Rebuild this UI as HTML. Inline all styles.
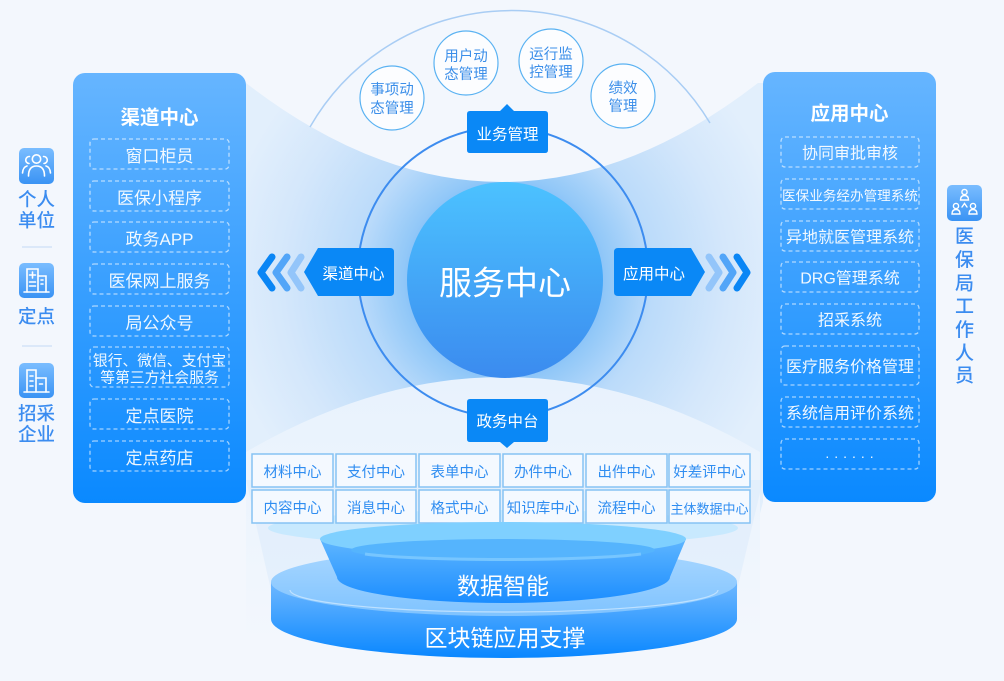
<!DOCTYPE html>
<html>
<head>
<meta charset="utf-8">
<style>
html,body{margin:0;padding:0;background:#f3f7fd;}
svg{display:block;}
.t{font-family:"Liberation Sans","Noto Sans CJK SC",sans-serif;}
</style>
</head>
<body>
<svg width="1004" height="681" viewBox="0 0 1004 681" xmlns="http://www.w3.org/2000/svg" class="t">
<defs>
  <linearGradient id="gp" x1="0" y1="0" x2="0" y2="1">
    <stop offset="0" stop-color="#66b5ff"/>
    <stop offset="1" stop-color="#0a89ff"/>
  </linearGradient>
  <linearGradient id="gc" x1="0" y1="0" x2="0" y2="1">
    <stop offset="0" stop-color="#4cc2ff"/>
    <stop offset="1" stop-color="#3b8bef"/>
  </linearGradient>
  <radialGradient id="gl" cx="505" cy="280" r="285" gradientUnits="userSpaceOnUse">
    <stop offset="0.3" stop-color="#7fbbf6"/>
    <stop offset="0.36" stop-color="#92c8f8"/>
    <stop offset="0.52" stop-color="#bbdbfa"/>
    <stop offset="0.78" stop-color="#d4e7fb"/>
    <stop offset="1" stop-color="#e2effc"/>
  </radialGradient>
  <linearGradient id="gi" x1="0" y1="0" x2="0" y2="1">
    <stop offset="0" stop-color="#7abdff"/>
    <stop offset="1" stop-color="#3a93f4"/>
  </linearGradient>
  <linearGradient id="gcone" x1="0" y1="0" x2="0" y2="1">
    <stop offset="0" stop-color="#5fb6ff"/>
    <stop offset="1" stop-color="#1b8dff"/>
  </linearGradient>
  <linearGradient id="gcyl" x1="0" y1="0" x2="0" y2="1">
    <stop offset="0" stop-color="#6fb8ff"/>
    <stop offset="1" stop-color="#0987ff"/>
  </linearGradient>
  <linearGradient id="gtop" x1="0" y1="0" x2="0" y2="1">
    <stop offset="0" stop-color="#a9d7ff"/>
    <stop offset="1" stop-color="#7fc3ff"/>
  </linearGradient>
  <linearGradient id="gbw" x1="0" y1="376" x2="0" y2="640" gradientUnits="userSpaceOnUse">
    <stop offset="0" stop-color="#e8f2fd"/>
    <stop offset="0.6" stop-color="#eef5fd"/>
    <stop offset="1" stop-color="#f3f7fd"/>
  </linearGradient>
</defs>

<!-- background -->
<rect x="0" y="0" width="1004" height="681" fill="#f3f7fd"/>

<!-- blue beam region -->
<path d="M246,75 L763,75 L763,502 L737,600 L271,600 L246,503 Z" fill="url(#gl)"/>

<!-- top white region -->
<path d="M230,0 L230,83 L246,83 Q502,281 758,83 L780,83 L780,0 Z" fill="#f3f7fd"/>

<!-- bottom white region -->
<path d="M246,452 Q503,302 760,452 L760,681 L246,681 Z" fill="url(#gbw)"/>
<!-- faint lower beam -->
<path d="M246,480 L271,590 L737,590 L763,480 Z" fill="#d6e9fb" opacity="0.45"/>

<!-- big top arc -->
<path d="M310,127 A232,232 0 0 1 710,123" fill="none" stroke="#a9cdf4" stroke-width="1.5"/>

<!-- ring -->
<circle cx="503" cy="272" r="145" fill="none" stroke="#3d8cef" stroke-width="2"/>

<!-- main circle -->
<circle cx="505" cy="280" r="98" fill="url(#gc)"/>
<text x="505" y="283" font-size="33" fill="#ffffff" text-anchor="middle" dominant-baseline="central">服务中心</text>

<!-- top bubbles -->
<g fill="rgba(255,255,255,0.75)" stroke="#5ab2f2" stroke-width="1.2">
  <circle cx="392" cy="98" r="32"/>
  <circle cx="466" cy="63" r="32"/>
  <circle cx="551" cy="61" r="32"/>
  <circle cx="623" cy="96" r="32"/>
</g>
<g font-size="14.5" fill="#3b8ee9" text-anchor="middle" dominant-baseline="central" transform="translate(0,2)">
  <text x="392" y="88.5">事项动</text><text x="392" y="107">态管理</text>
  <text x="466" y="55">用户动</text><text x="466" y="73">态管理</text>
  <text x="551" y="53">运行监</text><text x="551" y="71">控管理</text>
  <text x="623" y="87">绩效</text><text x="623" y="105">管理</text>
</g>

<!-- 业务管理 label -->
<path d="M470,111 L500,111 L507,104 L514,111 L545,111 Q548,111 548,114 L548,150 Q548,153 545,153 L470,153 Q467,153 467,150 L467,114 Q467,111 470,111 Z" fill="#0a88f6"/>
<text x="507.5" y="135" font-size="15.5" fill="#ffffff" text-anchor="middle" dominant-baseline="central">业务管理</text>

<!-- 政务中台 label -->
<path d="M470,399 L545,399 Q548,399 548,402 L548,439 Q548,442 545,442 L514,442 L507,448 L500,442 L470,442 Q467,442 467,439 L467,402 Q467,399 470,399 Z" fill="#0a88f6"/>
<text x="507.5" y="422" font-size="15.5" fill="#ffffff" text-anchor="middle" dominant-baseline="central">政务中台</text>

<!-- 渠道中心 label (left pointing) -->
<path d="M318,248 L390,248 Q394,248 394,252 L394,292 Q394,296 390,296 L318,296 L304,272 Z" fill="#0a88f6"/>
<text x="353.5" y="274.5" font-size="15.5" fill="#ffffff" text-anchor="middle" dominant-baseline="central">渠道中心</text>

<!-- 应用中心 label (right pointing) -->
<path d="M618,248 L691,248 L705,272 L691,296 L618,296 Q614,296 614,292 L614,252 Q614,248 618,248 Z" fill="#0a88f6"/>
<text x="654" y="274.5" font-size="15.5" fill="#ffffff" text-anchor="middle" dominant-baseline="central">应用中心</text>

<!-- chevrons -->
<g fill="none" stroke-width="7" stroke-linecap="round" stroke-linejoin="round">
  <polyline points="272,257 261,272.5 272,288" stroke="#0a86f5"/>
  <polyline points="287,257 276,272.5 287,288" stroke="#52a5f8"/>
  <polyline points="301,257 291,272.5 301,288" stroke="#93c5fa"/>
  <polyline points="709,257 719,272.5 709,288" stroke="#93c5fa"/>
  <polyline points="723,257 733,272.5 723,288" stroke="#52a5f8"/>
  <polyline points="737,257 747,272.5 737,288" stroke="#0a86f5"/>
</g>

<!-- grid glow -->
<ellipse cx="503" cy="528" rx="235" ry="18" fill="#bfe7ff" opacity="0.75"/>

<!-- grid cells -->
<g fill="#f4f9ff" stroke="#86c3f4" stroke-width="1.5">
  <rect x="252" y="454" width="81" height="33"/>
  <rect x="336" y="454" width="80" height="33"/>
  <rect x="419" y="454" width="81" height="33"/>
  <rect x="503" y="454" width="80" height="33"/>
  <rect x="586" y="454" width="81" height="33"/>
  <rect x="669" y="454" width="81" height="33"/>
  <rect x="252" y="490" width="81" height="33"/>
  <rect x="336" y="490" width="80" height="33"/>
  <rect x="419" y="490" width="81" height="33"/>
  <rect x="503" y="490" width="80" height="33"/>
  <rect x="586" y="490" width="81" height="33"/>
  <rect x="669" y="490" width="81" height="33"/>
</g>
<g font-size="14.5" fill="#2f8df1" text-anchor="middle" dominant-baseline="central" transform="translate(0,2)">
  <text x="292.5" y="471">材料中心</text>
  <text x="376" y="471">支付中心</text>
  <text x="459.5" y="471">表单中心</text>
  <text x="543" y="471">办件中心</text>
  <text x="626.5" y="471">出件中心</text>
  <text x="709.5" y="471">好差评中心</text>
  <text x="292.5" y="507">内容中心</text>
  <text x="376" y="507">消息中心</text>
  <text x="459.5" y="507">格式中心</text>
  <text x="543" y="507">知识库中心</text>
  <text x="626.5" y="507">流程中心</text>
  <text x="709.5" y="507" font-size="13">主体数据中心</text>
</g>

<!-- lower cylinder -->
<path d="M271,582 L271,619 A233,39 0 0 0 737,619 L737,582 Z" fill="url(#gcyl)"/>
<ellipse cx="504" cy="582" rx="233" ry="34" fill="url(#gtop)"/>
<path d="M290,590 A214,22 0 0 0 718,590" fill="none" stroke="#c4e3ff" stroke-width="1.2" opacity="0.9"/>

<!-- upper cone -->
<path d="M320,539 L337,577 A166.5,26 0 0 0 670,577 L686,539 Z" fill="url(#gcone)"/>
<ellipse cx="503" cy="539" rx="183" ry="17" fill="#7fd0ff"/>
<ellipse cx="503" cy="550" rx="152" ry="11" fill="#55b4fd"/>
<path d="M365,554 A150,9 0 0 0 641,554" fill="none" stroke="#7fcaff" stroke-width="3" opacity="0.8"/>

<text x="503" y="586" font-size="23" fill="#ffffff" text-anchor="middle" dominant-baseline="central">数据智能</text>
<text x="505" y="638" font-size="23" fill="#ffffff" text-anchor="middle" dominant-baseline="central">区块链应用支撑</text>

<!-- LEFT PANEL -->
<rect x="73" y="73" width="173" height="430" rx="12" fill="url(#gp)"/>
<text x="159.5" y="118" font-size="19.5" font-weight="bold" fill="#ffffff" text-anchor="middle" dominant-baseline="central">渠道中心</text>
<g fill="none" stroke="rgba(255,255,255,0.6)" stroke-width="1.3" stroke-dasharray="4,3">
  <rect x="90" y="139" width="139" height="30" rx="4"/>
  <rect x="90" y="181" width="139" height="30" rx="4"/>
  <rect x="90" y="222" width="139" height="30" rx="4"/>
  <rect x="90" y="264" width="139" height="30" rx="4"/>
  <rect x="90" y="306" width="139" height="30" rx="4"/>
  <rect x="90" y="347" width="139" height="40" rx="4"/>
  <rect x="90" y="399" width="139" height="30" rx="4"/>
  <rect x="90" y="441" width="139" height="30" rx="4"/>
</g>
<g font-size="17" fill="rgba(255,255,255,0.93)" text-anchor="middle" dominant-baseline="central" transform="translate(0,2.5)">
  <text x="159.5" y="154">窗口柜员</text>
  <text x="159.5" y="196">医保小程序</text>
  <text x="159.5" y="237">政务APP</text>
  <text x="159.5" y="279">医保网上服务</text>
  <text x="159.5" y="321">局公众号</text>
  <text x="159.5" y="359" font-size="14.8">银行、微信、支付宝</text>
  <text x="159.5" y="376" font-size="14.8">等第三方社会服务</text>
  <text x="159.5" y="414">定点医院</text>
  <text x="159.5" y="456">定点药店</text>
</g>

<!-- RIGHT PANEL -->
<rect x="763" y="72" width="173" height="430" rx="12" fill="url(#gp)"/>
<text x="849.5" y="114" font-size="19.5" font-weight="bold" fill="#ffffff" text-anchor="middle" dominant-baseline="central">应用中心</text>
<g fill="none" stroke="rgba(255,255,255,0.6)" stroke-width="1.3" stroke-dasharray="4,3">
  <rect x="781" y="137" width="138" height="30" rx="4"/>
  <rect x="781" y="179" width="138" height="30" rx="4"/>
  <rect x="781" y="221" width="138" height="30" rx="4"/>
  <rect x="781" y="262" width="138" height="30" rx="4"/>
  <rect x="781" y="304" width="138" height="30" rx="4"/>
  <rect x="781" y="346" width="138" height="39" rx="4"/>
  <rect x="781" y="397" width="138" height="30" rx="4"/>
  <rect x="781" y="439" width="138" height="30" rx="4"/>
</g>
<g font-size="16" fill="rgba(255,255,255,0.93)" text-anchor="middle" dominant-baseline="central" transform="translate(0,2)">
  <text x="850" y="152">协同审批审核</text>
  <text x="850" y="194" font-size="13.6">医保业务经办管理系统</text>
  <text x="850" y="236">异地就医管理系统</text>
  <text x="850" y="277">DRG管理系统</text>
  <text x="850" y="319">招采系统</text>
  <text x="850" y="365.5">医疗服务价格管理</text>
  <text x="850" y="412">系统信用评价系统</text>
  <text x="852" y="451" font-size="14" letter-spacing="5">......</text>
</g>

<!-- LEFT ICONS -->
<rect x="19" y="148" width="35" height="36" rx="5" fill="url(#gi)"/>
<g fill="none" stroke="#ffffff" stroke-width="1.6" stroke-linecap="round">
  <circle cx="36.5" cy="159" r="4.2"/>
  <path d="M28.5,176 Q28.5,166 36.5,166 Q44.5,166 44.5,176"/>
  <path d="M29,163.5 A3.3,3.3 0 1 1 29.5,156.5"/>
  <path d="M22.5,173 Q23,167 27,166"/>
  <path d="M44,163.5 A3.3,3.3 0 1 0 43.5,156.5"/>
  <path d="M50.5,173 Q50,167 46,166"/>
</g>
<g font-size="18.5" font-weight="500" fill="#3b8cf0" text-anchor="middle" dominant-baseline="central" transform="translate(0,1.5)">
  <text x="36.5" y="198">个人</text>
  <text x="36.5" y="219">单位</text>
</g>
<line x1="22" y1="247" x2="52" y2="247" stroke="#d3e4f8" stroke-width="1.5"/>

<rect x="19" y="263" width="35" height="35" rx="5" fill="url(#gi)"/>
<g fill="none" stroke="#ffffff" stroke-width="1.6" stroke-linecap="round">
  <path d="M27,292 L27,269 L38,269 L38,292"/>
  <path d="M32.5,272 L32.5,278 M29.5,275 L35.5,275"/>
  <path d="M29.5,282 L35.5,282 M29.5,286 L35.5,286"/>
  <path d="M38,276 L46,276 L46,292"/>
  <path d="M41,280 L43,280 M41,284 L43,284"/>
  <path d="M24,292 L49,292"/>
</g>
<text x="36.5" y="316.5" font-size="18.5" font-weight="500" fill="#3b8cf0" text-anchor="middle" dominant-baseline="central">定点</text>
<line x1="22" y1="346" x2="52" y2="346" stroke="#d3e4f8" stroke-width="1.5"/>

<rect x="19" y="363" width="35" height="35" rx="5" fill="url(#gi)"/>
<g fill="none" stroke="#ffffff" stroke-width="1.6" stroke-linecap="round">
  <path d="M27,392 L27,370 L36,370 L36,392"/>
  <path d="M30,376 L33,376 M30,381 L33,381 M30,386 L33,386"/>
  <path d="M36,378 L46,378 L46,392"/>
  <path d="M39.5,384 L42.5,384"/>
  <path d="M24,392 L49,392"/>
</g>
<g font-size="18.5" font-weight="500" fill="#3b8cf0" text-anchor="middle" dominant-baseline="central" transform="translate(0,1.5)">
  <text x="36.5" y="412">招采</text>
  <text x="36.5" y="433">企业</text>
</g>

<!-- RIGHT ICON -->
<rect x="947" y="185" width="35" height="36" rx="5" fill="url(#gi)"/>
<g fill="none" stroke="#ffffff" stroke-width="1.4" stroke-linecap="round">
  <circle cx="964.5" cy="192" r="2.6"/>
  <path d="M960.5,200 Q960.5,195.5 964.5,195.5 Q968.5,195.5 968.5,200 Z"/>
  <circle cx="956" cy="206" r="2.6"/>
  <path d="M952,214 Q952,209.5 956,209.5 Q960,209.5 960,214 Z"/>
  <circle cx="973" cy="206" r="2.6"/>
  <path d="M969,214 Q969,209.5 973,209.5 Q977,209.5 977,214 Z"/>
  <path d="M962,207 L964.5,203.5 L967,207"/>
</g>
<g font-size="19" font-weight="500" fill="#3b8cf0" text-anchor="middle" dominant-baseline="central" transform="translate(0,2)">
  <text x="964.5" y="235">医</text>
  <text x="964.5" y="258.5">保</text>
  <text x="964.5" y="282">局</text>
  <text x="964.5" y="305">工</text>
  <text x="964.5" y="328.5">作</text>
  <text x="964.5" y="352">人</text>
  <text x="964.5" y="374">员</text>
</g>
</svg>
</body>
</html>
